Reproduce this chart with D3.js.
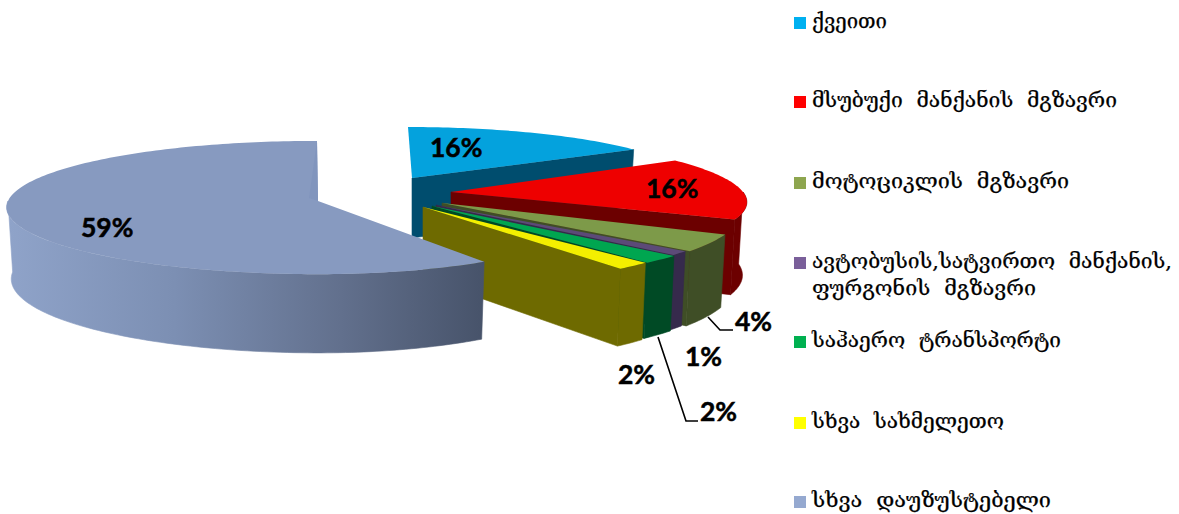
<!DOCTYPE html>
<html><head><meta charset="utf-8">
<script src="https://cdnjs.cloudflare.com/ajax/libs/d3/7.8.5/d3.min.js"></script>
<style>html,body{margin:0;padding:0;background:#fff}svg{display:block}</style>
</head><body><svg id="c" width="1179" height="514"></svg>
<script>
const categories = ["ქვეითი","მსუბუქი მანქანის მგზავრი","მოტოციკლის მგზავრი","ავტობუსის,სატვირთო მანქანის,","საჰაერო ტრანსპორტი","სხვა სახმელეთო","სხვა დაუზუსტებელი"];
const categoryContinuation = "ფურგონის მგზავრი";
const values = [16,16,4,1,2,2,59];
const valueLabels = ["16%","16%","4%","1%","2%","2%","59%"];
const topColors = ["#04a2dd","#ee0000","#7d9a49","#5c4a78","#00a650","#f4ef00","#879ac0"];
const wallColors = ["#004d6e","#6c0000","#3f4e26","#362a4c","#004a25","#6e6a00","url(#greyWall)"];
const legendColors = ["#00b0f0","#ff0000","#8ea64f","#7a5f9a","#00b050","#ffff00","#95a9d0"];
// layout of each exploded slice (projection params)
const geom = [
 {ox:412,oy:178,R:279,Ry:56,s:-4,h:60},
 {ox:451,oy:192,R:292,Ry:62,s:-19,h:72},
 {ox:442,oy:203,R:297,Ry:71,s:-6,h:70},
 {ox:436,oy:205,R:297,Ry:68,s:-8,h:70},
 {ox:432,oy:206,R:300,Ry:68,s:-11,h:70},
 {ox:423,oy:207,R:270,Ry:67,s:-47,h:71},
 {ox:318,oy:201,R:310,Rr:283,Ry:66,s:-1,h:71}
];
const labelPos = [[430,157],[646,198],[735,331],[685,366],[700,421],[618,384],[81,237]];
const legendY = [28,107,188,268,347,428,507];
const legendW = [75,305,257,360,249,192,239];
const P = 0.098, TAPER = 0.985;

const svg = d3.select("#c");
const defs = svg.append("defs");
const g = defs.append("linearGradient").attr("id","greyWall").attr("gradientUnits","userSpaceOnUse")
  .attr("x1",8).attr("x2",483).attr("y1",0).attr("y2",0);
[[0,"#8fa3c9"],[0.35,"#7c8fb3"],[0.7,"#62708d"],[1,"#47536a"]].forEach(([o,c])=>g.append("stop").attr("offset",o).attr("stop-color",c));

const arcs = d3.pie().sort(null).value(d=>d)(values);
const line = d3.line();
function proj(gm,a,r,bottom){
  const sa=Math.sin(a), ca=Math.cos(a), w=1/(1+P*ca*r);
  const Rx = sa>0 && gm.Rr ? gm.Rr : gm.R;
  let dx = w*Rx*sa*r + gm.s*ca*r;
  const y = gm.oy - gm.Ry*ca*w*r + (bottom ? gm.h*w : 0);
  if(bottom) dx*=TAPER;
  return [gm.ox+dx, y];
}
const samples=(a0,a1)=>{const n=Math.max(3,Math.ceil((a1-a0)/0.02));return d3.range(n+1).map(i=>a0+(a1-a0)*i/n);};

arcs.forEach((d,i)=>{
  const gm=geom[i], layer=svg.append("g");
  const a0=d.startAngle,a1=d.endAngle;
  if(a1<Math.PI){
    layer.append("path").attr("fill",wallColors[i]).attr("stroke",wallColors[i]).attr("stroke-width",0.6).attr("d",line([
      proj(gm,0,0,false),proj(gm,a1,1,false),proj(gm,a1,1,true),proj(gm,0,0,true)])+"Z");
  }
  const w0=Math.max(a0,Math.PI/2), w1=Math.min(a1,1.5*Math.PI);
  if(w1>w0){
    const s=samples(w0,w1);
    const pts=s.map(a=>proj(gm,a,1,false)).concat(s.slice().reverse().map(a=>proj(gm,a,1,true)));
    layer.append("path").attr("fill",wallColors[i]).attr("stroke",wallColors[i]).attr("stroke-width",0.6).attr("d",line(pts)+"Z");
  }
  const top=[proj(gm,0,0,false)].concat(samples(a0,a1).map(a=>proj(gm,a,1,false)));
  layer.append("path").attr("fill",topColors[i]).attr("d",line(top)+"Z");
  if(i===6){
    const t=proj(gm,2*Math.PI,1,false), c=proj(gm,0,0,false);
    layer.append("path").attr("fill","#8195bd").attr("d",line([t,[c[0]-9,c[1]-3],c])+"Z");
  }
});

const leaders=[[[708,317],[720,330],[733,330]],[[658,337],[686,421],[698,421]]];
svg.selectAll("path.leader").data(leaders).enter().append("path").attr("class","leader")
  .attr("d",d=>line(d)).attr("fill","none").attr("stroke","#000").attr("stroke-width",1.6);

svg.selectAll("text.val").data(valueLabels).enter().append("text").attr("class","val")
  .attr("x",(d,i)=>labelPos[i][0]).attr("y",(d,i)=>labelPos[i][1]).text(d=>d)
  .attr("font-family","Lato, sans-serif").attr("font-weight","700").attr("font-size",26.5)
  .attr("fill","#000").attr("stroke","#000").attr("stroke-width",0.5);

const leg=svg.append("g").attr("font-family","'DejaVu Serif','DejaVu Sans',serif").attr("font-size",21)
  .attr("fill","#000").attr("stroke","#000").attr("stroke-width",0.25).attr("word-spacing",7);
categories.forEach((c,i)=>{
  leg.append("rect").attr("x",794).attr("y",legendY[i]-11).attr("width",12).attr("height",12).attr("stroke","none").attr("fill",legendColors[i]);
  leg.append("text").attr("x",812).attr("y",legendY[i]).attr("textLength",legendW[i]).attr("lengthAdjust","spacingAndGlyphs").text(c);
});
leg.append("text").attr("x",812).attr("y",295).attr("textLength",224).attr("lengthAdjust","spacingAndGlyphs").text(categoryContinuation);
</script></body></html>
